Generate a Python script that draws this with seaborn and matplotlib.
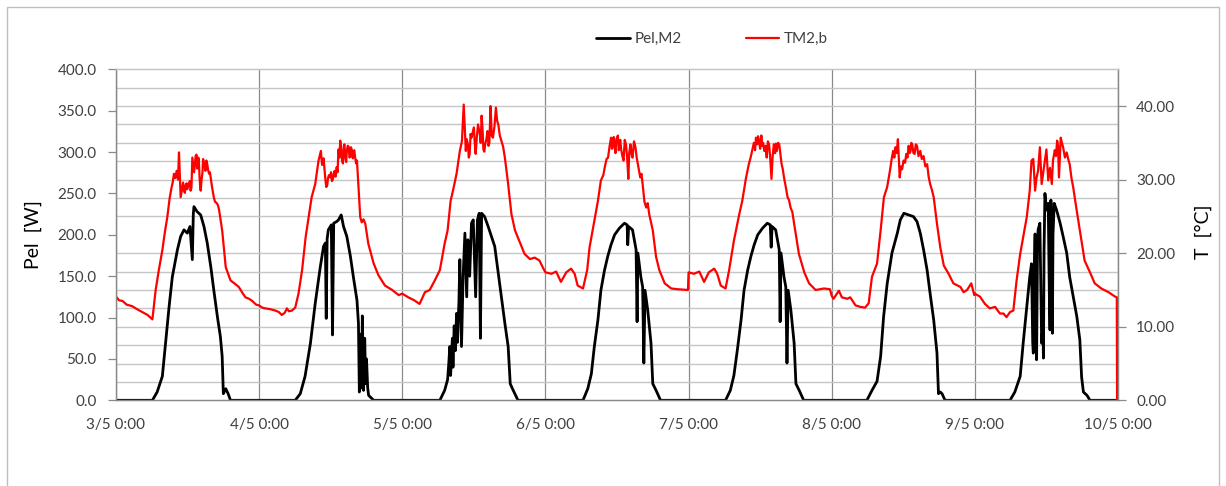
import pandas as pd
import matplotlib
matplotlib.use("Agg")
import matplotlib.pyplot as plt
import seaborn as sns
from matplotlib.ticker import MultipleLocator, FixedLocator
from matplotlib.patches import Rectangle

# time axis: hours since 3/5 0:00, one tick per day
day_labels = ["3/5 0:00", "4/5 0:00", "5/5 0:00", "6/5 0:00",
              "7/5 0:00", "8/5 0:00", "9/5 0:00", "10/5 0:00"]

# ---- Pel,M2 [W]: hour of day / value, one pair per day ----
p_h0 = [0, 6.1, 6.9, 7.77, 8.3, 8.9, 9.44, 10.3, 10.84, 11.4, 11.96, 12.4, 12.8, 12.96, 13.07, 13.6, 14.2, 14.75,
        15.3, 15.9, 16.4, 17.0, 17.5, 17.8, 18.0, 18.4, 18.8, 19.2, 23.9]
p_v0 = [0, 0, 10, 29, 69, 113, 149, 182, 198, 206, 202, 210, 170, 225, 234, 228, 224, 210,
        190, 161, 133, 101, 77, 53, 8, 14, 8, 0, 0]
p_h1 = [0, 6.05, 6.9, 7.7, 8.6, 9.4, 10.25, 10.8, 11.1, 11.25, 11.4, 11.6, 12.1, 12.3, 12.5, 13.0, 13.3, 13.76,
        14.15, 14.7, 15.3, 15.8, 16.4, 16.65, 16.8, 17.0, 17.2, 17.3, 17.5, 17.7, 17.85, 18.0, 18.2, 18.35, 19.2, 23.9]
p_v1 = [0, 0, 8, 29, 69, 117, 161, 186, 190, 99, 195, 206, 212, 79, 214, 216, 218, 224,
        210, 198, 174, 149, 121, 93, 10, 80, 15, 102, 12, 75, 20, 50, 15, 6, 0, 0]
p_h2 = [0, 6.3, 7.1, 7.6, 7.8, 7.97, 8.1, 8.4, 8.5, 8.7, 8.9, 9.1, 9.25, 9.5, 9.65, 9.8, 9.93, 10.2, 10.5, 10.8,
        11.0, 11.3, 11.6, 11.9, 12.3, 12.6, 12.9, 13.1, 13.3, 13.8, 14.4, 14.95, 15.5, 16.1, 16.6, 17.2, 17.75,
        18.1, 18.6, 19.4, 23.9]
p_v2 = [0, 0, 12, 25, 45, 65, 30, 75, 40, 90, 60, 105, 70, 120, 170, 110, 65, 150, 202, 125,
        194, 150, 214, 218, 125, 218, 226, 75, 226, 222, 210, 198, 186, 153, 125, 93, 65,
        20, 12, 0, 0]
p_h3 = [0, 6.3, 7.1, 7.7, 8.2, 8.8, 9.3, 9.9, 10.45, 11.0, 11.6, 12.4, 13.25, 13.7, 13.8, 13.95, 14.6, 15.2,
        15.37, 15.5, 16.0, 16.3, 16.5, 16.7, 17.15, 17.7, 18.0, 18.55, 19.3, 23.9]
p_v3 = [0, 0, 14, 32, 65, 97, 133, 157, 174, 188, 200, 208, 214, 212, 188, 210, 206, 182,
        95, 178, 149, 137, 45, 133, 109, 69, 20, 12, 0, 0]
p_h4 = [0, 6.2, 7.0, 7.6, 8.2, 8.8, 9.3, 9.9, 10.45, 11.0, 11.6, 12.4, 13.2, 13.7, 13.85, 14.0, 14.6, 15.2,
        15.35, 15.5, 16.0, 16.3, 16.5, 16.7, 17.15, 17.7, 18.0, 18.55, 19.3, 23.9]
p_v4 = [0, 0, 12, 30, 62, 97, 133, 157, 174, 188, 200, 208, 214, 212, 185, 210, 206, 182,
        95, 178, 149, 137, 45, 133, 109, 69, 20, 12, 0, 0]
p_h5 = [0, 5.9, 6.75, 7.6, 8.2, 8.7, 9.3, 10.1, 11.0, 11.5, 12.1, 12.9, 13.7, 14.3, 14.85, 15.4, 16.0, 16.5,
        17.1, 17.65, 17.9, 18.2, 18.5, 19.0, 23.9]
p_v5 = [0, 0, 12, 23, 53, 101, 141, 178, 202, 218, 226, 224, 222, 216, 202, 182, 157, 129,
        97, 57, 8, 10, 8, 0, 0]
p_h6 = [0, 5.9, 6.7, 7.6, 8.1, 8.7, 9.2, 9.5, 9.7, 9.8, 9.95, 10.1, 10.2, 10.35, 10.5, 10.6, 10.9, 11.1, 11.2,
        11.4, 11.5, 11.6, 11.75, 12.0, 12.3, 12.5, 12.6, 12.75, 12.9, 13.0, 13.1, 13.3, 13.7, 14.3, 14.8, 15.4,
        15.9, 16.5, 17.1, 17.6, 17.9, 18.2, 18.8, 19.3, 24.0]
p_v6 = [0, 0, 10, 29, 69, 113, 149, 165, 70, 57, 150, 201, 100, 49, 180, 206, 214, 120, 69,
        90, 51, 180, 250, 230, 238, 120, 85, 242, 150, 81, 200, 238, 230, 214, 198, 178,
        149, 125, 101, 73, 28, 10, 6, 0, 0]

# ---- TM2,b [°C] ----
t_h0 = [0, 0.5, 1.1, 1.8, 2.7, 3.5, 4.4, 5.3, 6.1, 6.65,
        7.2, 7.77, 8.2, 8.6, 9.0, 9.33, 9.5, 9.72, 9.95, 10.17,
        10.4, 10.56, 10.84, 11.1, 11.25, 11.4, 11.55, 11.7, 11.85, 11.96,
        12.2, 12.35, 12.5, 12.65, 12.8, 12.95, 13.1, 13.25, 13.35, 13.5,
        13.6, 13.7, 13.8, 13.9, 14.0, 14.1, 14.2, 14.35, 14.5, 14.6,
        14.75, 14.9, 15.0, 15.15, 15.3, 15.45, 15.6, 15.75, 15.9, 16.1,
        16.4, 16.6, 16.9, 17.1, 17.3, 17.8, 18.4, 19.2, 20.0, 20.6,
        21.2, 21.7, 22.3, 22.85, 23.5]
t_v0 = [14.1, 13.6, 13.5, 13.0, 12.8, 12.4, 12.0, 11.6, 11.0, 15.0,
        17.8, 20.4, 22.9, 24.9, 27.5, 29.0, 29.6, 30.8, 30.2, 31.2,
        30.0, 33.7, 27.6, 28.9, 29.6, 28.5, 28.2, 29.3, 29.5, 28.7,
        29.4, 29.8, 28.5, 28.9, 33.0, 32.0, 31.0, 32.3, 33.2, 33.4,
        31.5, 31.8, 33.0, 32.6, 30.5, 29.2, 28.5, 30.0, 31.0, 32.8,
        32.3, 31.6, 31.2, 32.6, 32.1, 31.3, 30.8, 31.0, 30.1, 29.0,
        27.6, 27.0, 26.8, 26.5, 25.8, 23.1, 18.1, 16.3, 15.8, 15.4,
        14.6, 14.0, 13.8, 13.5, 13.0]
t_h1 = [0, 0.5, 1.0, 1.8, 2.7, 3.3, 3.8, 4.3, 4.65, 5.0,
        5.5, 6.05, 6.6, 7.2, 7.8, 8.3, 8.8, 9.4, 9.96, 10.35,
        10.55, 10.8, 11.1, 11.25, 11.4, 11.55, 11.7, 11.9, 12.05, 12.2,
        12.35, 12.5, 12.65, 12.8, 13.0, 13.15, 13.3, 13.45, 13.6, 13.75,
        13.9, 14.05, 14.2, 14.3, 14.45, 14.6, 14.7, 14.85, 15.0, 15.15,
        15.3, 15.4, 15.55, 15.7, 15.8, 15.95, 16.1, 16.25, 16.4, 16.7,
        16.95, 17.2, 17.5, 17.8, 18.3, 19.2, 20.0, 21.1, 22.3, 23.4]
t_v1 = [12.9, 12.6, 12.5, 12.4, 12.2, 12.0, 11.6, 11.9, 12.5, 12.1,
        12.2, 12.6, 14.5, 17.7, 22.2, 24.9, 27.6, 29.4, 32.6, 33.9,
        32.0, 32.9, 30.1, 29.0, 29.2, 30.2, 30.6, 30.3, 31.0, 29.8,
        30.0, 30.8, 31.2, 30.4, 31.7, 31.0, 34.1, 33.0, 35.3, 34.2,
        32.6, 32.2, 34.6, 34.8, 33.0, 32.4, 33.9, 34.6, 34.5, 33.0,
        33.2, 34.4, 34.0, 32.9, 33.7, 34.0, 33.0, 32.2, 32.6, 28.5,
        24.9, 24.2, 24.6, 24.0, 21.3, 18.6, 17.0, 15.6, 15.0, 14.3]
t_h2 = [0, 1.0, 2.0, 2.9, 3.8, 4.6, 5.45, 6.3, 7.1, 7.6,
        8.1, 8.5, 9.1, 9.65, 10.0, 10.3, 10.65, 10.8, 11.0, 11.15,
        11.3, 11.45, 11.6, 12.0, 12.15, 12.3, 12.5, 12.7, 13.0, 13.15,
        13.3, 13.45, 13.6, 13.75, 13.9, 14.1, 14.3, 14.45, 14.6, 14.8,
        15.0, 15.2, 15.45, 15.7, 15.9, 16.1, 16.35, 16.6, 16.9, 17.2,
        17.75, 18.3, 18.9, 19.7, 20.5, 21.4, 22.2, 23.0, 23.6]
t_v2 = [14.5, 14.0, 13.6, 13.1, 14.7, 15.0, 16.3, 17.7, 21.3, 23.1,
        27.1, 28.5, 30.8, 33.9, 35.2, 40.2, 33.9, 35.5, 34.8, 33.0,
        33.5, 36.2, 35.7, 37.1, 35.0, 33.5, 35.8, 37.5, 36.2, 35.0,
        38.7, 37.0, 34.1, 33.8, 34.8, 35.5, 36.6, 34.6, 35.0, 40.0,
        36.0, 35.7, 37.2, 39.8, 38.0, 37.5, 36.0, 35.3, 34.5, 33.0,
        29.4, 25.3, 23.1, 21.5, 19.9, 19.2, 19.4, 19.0, 18.0]
t_h3 = [0, 1.0, 1.8, 2.6, 3.5, 4.3, 4.9, 5.4, 6.3, 7.0,
        7.4, 8.2, 8.8, 9.3, 9.7, 10.0, 10.25, 10.5, 10.75, 11.0,
        11.15, 11.3, 11.45, 11.6, 11.75, 11.9, 12.15, 12.3, 12.4, 12.55,
        12.7, 12.9, 13.1, 13.3, 13.5, 13.7, 13.9, 14.05, 14.25, 14.45,
        14.6, 14.85, 15.1, 15.3, 15.5, 15.7, 15.9, 16.1, 16.3, 16.6,
        16.9, 17.15, 17.4, 18.0, 18.55, 19.1, 20.0, 21.1, 22.2, 23.9]
t_v3 = [17.4, 17.2, 17.5, 16.1, 17.4, 17.9, 17.2, 15.6, 15.2, 17.7,
        20.8, 24.4, 27.1, 29.9, 30.6, 31.9, 32.8, 33.0, 34.5, 35.7,
        34.2, 34.6, 35.8, 34.4, 33.6, 35.5, 36.0, 34.0, 34.8, 35.4,
        34.1, 33.2, 32.6, 35.4, 34.8, 33.0, 30.1, 33.6, 34.8, 33.4,
        33.0, 35.2, 34.4, 33.0, 32.1, 31.2, 30.3, 30.8, 29.4, 27.0,
        26.2, 26.8, 25.3, 23.1, 19.5, 17.7, 15.9, 15.2, 15.1, 15.0]
t_h4 = [0, 0.9, 1.8, 2.6, 3.4, 4.3, 4.8, 5.4, 6.2, 6.8,
        7.6, 8.5, 9.0, 9.6, 10.1, 10.4, 10.7, 10.95, 11.15, 11.3,
        11.5, 11.65, 11.8, 12.0, 12.2, 12.35, 12.5, 12.7, 12.9, 13.1,
        13.3, 13.5, 13.7, 13.9, 14.1, 14.3, 14.5, 14.65, 14.8, 15.0,
        15.2, 15.4, 15.6, 15.8, 16.0, 16.3, 16.6, 16.85, 17.1, 17.4,
        17.7, 18.5, 19.4, 20.2, 21.3, 22.7, 23.7]
t_v4 = [17.4, 17.2, 17.5, 16.1, 17.4, 17.9, 17.2, 15.6, 15.2, 17.7,
        21.7, 25.3, 27.1, 30.1, 32.1, 33.0, 34.1, 35.0, 34.0, 35.7,
        34.8, 35.9, 35.3, 34.2, 36.0, 34.6, 35.0, 33.9, 34.6, 33.0,
        35.2, 34.8, 32.8, 30.1, 33.2, 34.8, 33.6, 34.9, 33.9, 35.0,
        34.8, 33.4, 32.1, 31.4, 30.3, 29.0, 27.6, 27.2, 26.2, 25.6,
        24.0, 19.9, 17.4, 15.9, 15.0, 15.2, 15.1]
t_h5 = [0, 0.3, 0.7, 1.2, 1.7, 2.6, 3.1, 4.0, 4.8, 5.6,
        6.2, 6.75, 7.6, 8.2, 8.75, 9.3, 9.8, 10.05, 10.3, 10.5,
        10.7, 10.9, 11.1, 11.25, 11.4, 11.6, 11.8, 12.05, 12.3, 12.5,
        12.7, 12.9, 13.05, 13.2, 13.35, 13.5, 13.7, 13.9, 14.1, 14.3,
        14.55, 14.85, 15.1, 15.4, 15.7, 16.0, 16.25, 16.5, 16.8, 17.1,
        17.65, 18.2, 18.8, 19.6, 20.4, 21.6, 22.1, 22.7, 23.4, 23.9]
t_v5 = [14.2, 13.8, 14.3, 14.9, 14.0, 13.8, 14.0, 12.9, 12.7, 12.6,
        13.2, 16.8, 18.6, 23.1, 27.6, 29.0, 31.4, 32.8, 33.9, 33.0,
        34.4, 33.6, 35.5, 33.0, 30.3, 31.8, 31.4, 32.6, 32.3, 33.5,
        33.0, 34.6, 33.6, 33.8, 35.0, 34.8, 33.6, 33.5, 34.8, 34.6,
        33.2, 33.9, 32.8, 33.2, 31.8, 32.1, 30.4, 29.4, 28.6, 27.6,
        24.0, 20.8, 18.3, 17.2, 15.9, 15.4, 14.7, 15.0, 15.9, 14.3]
t_h6 = [0, 0.85, 1.7, 2.5, 3.4, 4.2, 4.8, 5.3, 5.9, 6.45,
        7.0, 7.6, 8.1, 8.7, 9.2, 9.5, 9.8, 10.1, 10.35, 10.6,
        10.9, 11.2, 11.5, 12.0, 12.3, 12.6, 12.9, 13.1, 13.4, 13.6,
        13.8, 13.95, 14.1, 14.25, 14.4, 14.6, 14.8, 15.1, 15.4, 15.65,
        15.9, 16.2, 16.5, 17.0, 17.6, 18.4, 19.3, 20.1, 21.2, 22.4,
        23.5, 23.8, 23.85]
t_v6 = [14.5, 14.1, 13.1, 12.5, 12.7, 11.8, 11.8, 11.3, 12.0, 12.2,
        16.3, 19.9, 22.2, 24.9, 28.5, 32.6, 32.8, 28.5, 30.3, 31.2,
        34.4, 29.4, 31.2, 34.1, 29.9, 31.6, 29.4, 32.6, 34.0, 33.2,
        35.3, 34.6, 30.3, 33.0, 35.7, 35.0, 34.4, 33.0, 33.7, 32.8,
        32.1, 30.2, 28.9, 26.2, 23.1, 19.0, 17.4, 15.9, 15.2, 14.7,
        14.1, 14.0, 0.0]


def join_days(hours, values):
    t, v = [], []
    for d, (hh, vv) in enumerate(zip(hours, values)):
        t += [d * 24 + h for h in hh]
        v += vv
    return t, v


pel_t, pel_w = join_days([p_h0, p_h1, p_h2, p_h3, p_h4, p_h5, p_h6],
                         [p_v0, p_v1, p_v2, p_v3, p_v4, p_v5, p_v6])
tm_t, tm_c = join_days([t_h0, t_h1, t_h2, t_h3, t_h4, t_h5, t_h6],
                       [t_v0, t_v1, t_v2, t_v3, t_v4, t_v5, t_v6])
df_pel = pd.DataFrame({"hours": pel_t, "Pel,M2": pel_w})
df_tm = pd.DataFrame({"hours": tm_t, "TM2,b": tm_c})

sns.set_style("white")
plt.rcParams["font.family"] = ["Lato", "DejaVu Sans"]
txt = "#404040"
grid_c = "#c6c6c6"
axis_c = "#8a8a8a"

fig = plt.figure(figsize=(12.26, 4.86), dpi=100)
ax = fig.add_axes([116 / 1226, 1 - 400.3 / 486, 1002 / 1226, 331 / 486])
ax2 = ax.twinx()

P_MAX, T_MAX = 400, 45

sns.lineplot(data=df_pel, x="hours", y="Pel,M2", ax=ax, color="black", lw=2.0,
             sort=False, estimator=None, label="Pel,M2", legend=False)
sns.lineplot(data=df_tm, x="hours", y="TM2,b", ax=ax2, color="red", lw=1.6,
             sort=False, estimator=None, label="TM2,b", legend=False)

ax.set_xlim(0, 168)
ax.set_ylim(0, P_MAX)
ax2.set_ylim(0, T_MAX)

ax.set_xticks(range(0, 169, 24), labels=day_labels)
ax.yaxis.set_major_locator(MultipleLocator(50))
ax.yaxis.set_major_formatter(lambda v, p: f"{v:.1f}")
ax2.yaxis.set_major_locator(MultipleLocator(10))
ax2.yaxis.set_major_formatter(lambda v, p: f"{v:.2f}")

# horizontal grid follows the 2.5 °C steps of the right axis, drawn under the lines
grid_levels = [i * 2.5 * P_MAX / T_MAX for i in range(19)]
ax.yaxis.set_minor_locator(FixedLocator(grid_levels))
ax.set_axisbelow(True)
ax.grid(axis="y", which="minor", color=grid_c, lw=1.0)
ax.grid(axis="x", which="major", color=axis_c, lw=0.9)
ax.grid(axis="y", which="major", visible=False)

ax.tick_params(axis="y", which="minor", length=0)
ax.tick_params(axis="both", which="major", direction="out", length=6, width=0.9,
               color=axis_c, labelcolor=txt, labelsize=11)
ax.tick_params(axis="x", pad=7)
ax.tick_params(axis="y", pad=8)
ax2.tick_params(axis="y", which="major", direction="out", length=6, width=0.9,
                color=axis_c, labelcolor=txt, labelsize=11, pad=7)
ax2.tick_params(axis="y", which="minor", length=0)

for a in (ax, ax2):
    for s in a.spines.values():
        s.set_color(axis_c)
        s.set_linewidth(0.9)
    a.spines["top"].set_color(grid_c)

ax.set_xlabel("")
ax.set_ylabel("Pel  [W]", fontsize=14, color="black")
ax2.set_ylabel("T  [°C]", fontsize=14, color="black")
ax.yaxis.set_label_coords(-0.074, 0.5)
ax2.yaxis.set_label_coords(1.077, 0.51)

h1, l1 = ax.get_legend_handles_labels()
h2, l2 = ax2.get_legend_handles_labels()
fig.legend(h1 + h2, l1 + l2, loc="center", bbox_to_anchor=(712 / 1226, 1 - 39 / 486),
           ncol=2, frameon=False, fontsize=11, handlelength=2.2, handletextpad=0.3,
           columnspacing=4.2, labelcolor=txt)

# chart area border
fig.add_artist(Rectangle((7 / 1226, -0.05), 1212 / 1226, 1.05 - 7 / 486, transform=fig.transFigure,
                         fill=False, edgecolor="#bfbfbf", lw=1.0))

fig.savefig("out.png", dpi=100, facecolor="white")
